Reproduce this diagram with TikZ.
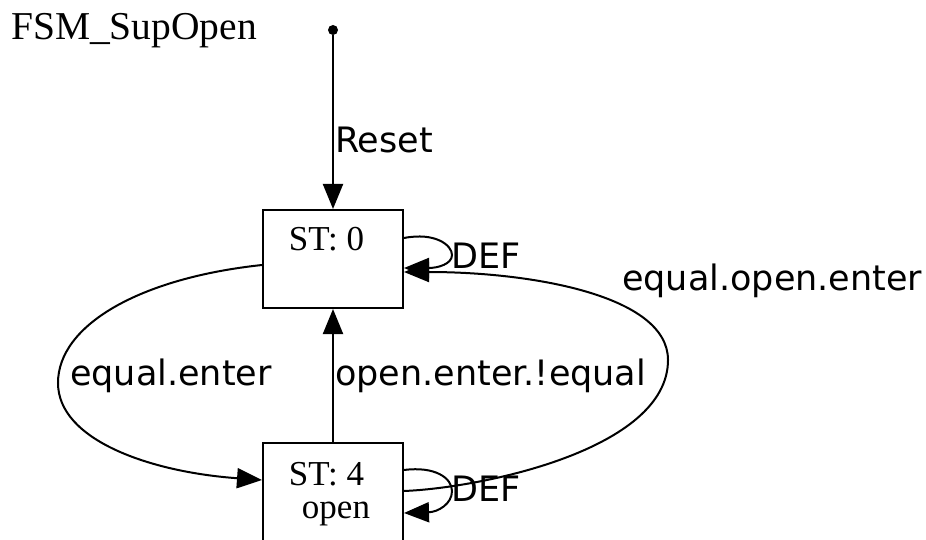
\documentclass[tikz,border=0pt]{standalone}
\usepackage{fontspec}
\setmainfont{Liberation Serif}
\newfontfamily\lblfont{DejaVu Sans}
\usetikzlibrary{arrows.meta,calc}
\begin{document}
\begin{tikzpicture}[x=1pt,y=-1pt,
  edge/.style={line width=2pt,-{Triangle[length=25pt,width=20pt]}},
  statebox/.style={draw,line width=2pt,minimum width=140pt,minimum height=98pt,inner sep=0pt},
  stext/.style={font=\fontsize{35}{40}\selectfont,inner sep=0pt,anchor=base},
  elabel/.style={font=\lblfont\fontsize{35}{40}\selectfont,inner sep=0pt,anchor=base west}]
\useasboundingbox (0,0) rectangle (926,540);
\node[font=\fontsize{39.5}{45}\selectfont,inner sep=0pt,anchor=base west] (title) at (11,40) {FSM\_SupOpen};
% states
\node[statebox] (s0) at (333,259) {};
\node[statebox] (s4) at (333,492) {};
\node[stext] (s0t) at (326.5,251) {ST: 0};
\node[stext] (s4t) at (326.5,485) {ST: 4};
\node[stext] (s4o) at (336,518) {open};
% start
\node[circle,fill,inner sep=0pt,minimum size=10pt] (start) at (333,30) {};
\draw[edge] (start) -- (s0);
\node[elabel] (lreset) at (335,153) {Reset};
% s4 -> s0
\draw[edge] (s4) -- (s0);
\node[elabel] (loes) at (335,385) {open.enter.!equal};
% s0 -> s4
\draw[edge] ($(s0.west)+(0,6)$) .. controls (140,278) and (58,325) .. (58,383)
   .. controls (58,440) and (150,472) .. ($(s4.west)+(0,-12)$);
\node[elabel] (lee) at (70,385) {equal.enter};
% s4 -> s0 big loop
\draw[edge] ($(s4.east)+(0,-1)$) .. controls (480,488) and (668,450) .. (668,360)
   .. controls (668,295) and (530,272) .. ($(s0.east)+(0,13)$);
\node[elabel] (loe) at (622,290) {equal.open.enter};
% self loops
\draw[edge] ($(s0.east)+(0,-21)$) .. controls (435,232) and (452,245) .. (452,255)
   .. controls (452,264) and (438,268) .. ($(s0.east)+(0,9)$);
\node[elabel] (ldef0) at (451,268) {DEF};
\draw[edge] ($(s4.east)+(0,-22)$) .. controls (435,466) and (452,478) .. (452,491)
   .. controls (452,504) and (438,512) .. ($(s4.east)+(0,21)$);
\node[elabel] (ldef4) at (451,501) {DEF};
\end{tikzpicture}
\end{document}
